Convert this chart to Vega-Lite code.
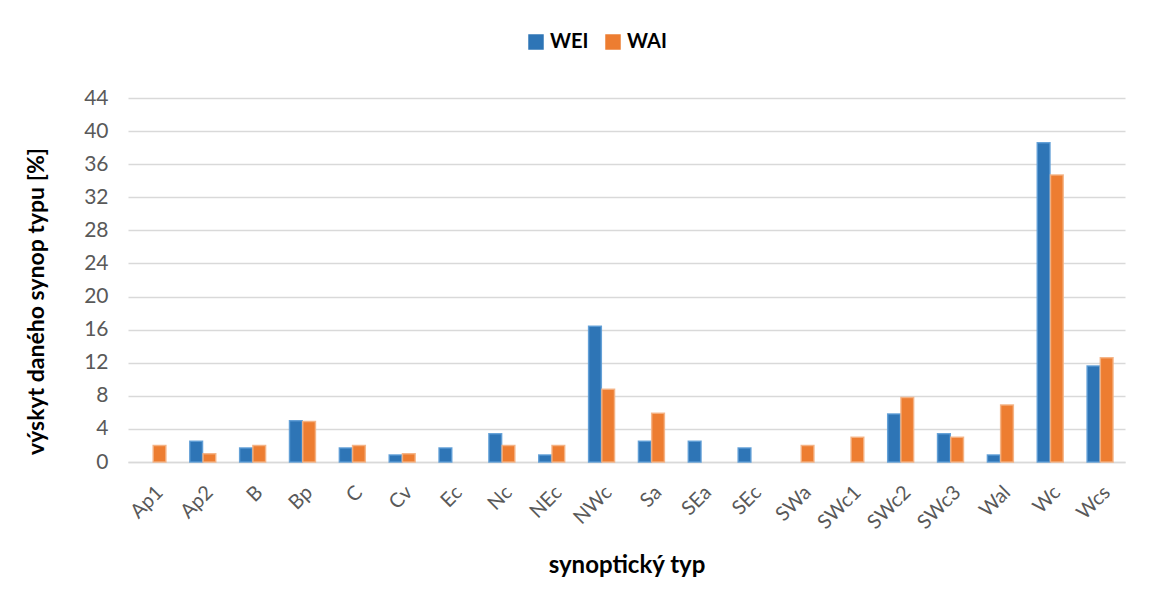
{
  "$schema": "https://vega.github.io/schema/vega-lite/v6.json",
  "autosize": {"type": "none"},
  "width": 997,
  "height": 364,
  "padding": {"left": 128, "top": 98, "right": 24, "bottom": 143},
  "background": "white",
  "config": {
    "font": "Lato",
    "view": {"stroke": null},
    "axis": {"labelFont": "Lato", "titleFont": "Lato"},
    "legend": {"labelFont": "Lato"}
  },
  "data": {
    "values": [
      {"typ": "Ap1", "serie": "WAI", "hodnota": 2.0},
      {"typ": "Ap2", "serie": "WEI", "hodnota": 2.5},
      {"typ": "Ap2", "serie": "WAI", "hodnota": 1.0},
      {"typ": "B", "serie": "WEI", "hodnota": 1.7},
      {"typ": "B", "serie": "WAI", "hodnota": 2.0},
      {"typ": "Bp", "serie": "WEI", "hodnota": 5.0},
      {"typ": "Bp", "serie": "WAI", "hodnota": 4.9},
      {"typ": "C", "serie": "WEI", "hodnota": 1.7},
      {"typ": "C", "serie": "WAI", "hodnota": 2.0},
      {"typ": "Cv", "serie": "WEI", "hodnota": 0.85},
      {"typ": "Cv", "serie": "WAI", "hodnota": 1.0},
      {"typ": "Ec", "serie": "WEI", "hodnota": 1.7},
      {"typ": "Nc", "serie": "WEI", "hodnota": 3.4},
      {"typ": "Nc", "serie": "WAI", "hodnota": 2.0},
      {"typ": "NEc", "serie": "WEI", "hodnota": 0.85},
      {"typ": "NEc", "serie": "WAI", "hodnota": 2.0},
      {"typ": "NWc", "serie": "WEI", "hodnota": 16.4},
      {"typ": "NWc", "serie": "WAI", "hodnota": 8.8},
      {"typ": "Sa", "serie": "WEI", "hodnota": 2.5},
      {"typ": "Sa", "serie": "WAI", "hodnota": 5.9},
      {"typ": "SEa", "serie": "WEI", "hodnota": 2.5},
      {"typ": "SEc", "serie": "WEI", "hodnota": 1.7},
      {"typ": "SWa", "serie": "WAI", "hodnota": 2.0},
      {"typ": "SWc1", "serie": "WAI", "hodnota": 3.0},
      {"typ": "SWc2", "serie": "WEI", "hodnota": 5.8},
      {"typ": "SWc2", "serie": "WAI", "hodnota": 7.8},
      {"typ": "SWc3", "serie": "WEI", "hodnota": 3.4},
      {"typ": "SWc3", "serie": "WAI", "hodnota": 3.0},
      {"typ": "Wal", "serie": "WEI", "hodnota": 0.85},
      {"typ": "Wal", "serie": "WAI", "hodnota": 6.9},
      {"typ": "Wc", "serie": "WEI", "hodnota": 38.6},
      {"typ": "Wc", "serie": "WAI", "hodnota": 34.7},
      {"typ": "Wcs", "serie": "WEI", "hodnota": 11.6},
      {"typ": "Wcs", "serie": "WAI", "hodnota": 12.6}
    ]
  },
  "mark": {"type": "bar", "strokeWidth": 1.5, "strokeOpacity": 0.9},
  "encoding": {
    "x": {
      "field": "typ",
      "type": "nominal",
      "sort": ["Ap1", "Ap2", "B", "Bp", "C", "Cv", "Ec", "Nc", "NEc", "NWc", "Sa", "SEa", "SEc", "SWa", "SWc1", "SWc2", "SWc3", "Wal", "Wc", "Wcs"],
      "scale": {"paddingInner": 0.48, "paddingOuter": 0.24},
      "axis": {
        "title": "synoptický typ",
        "titleFontSize": 24,
        "titleFontWeight": "bold",
        "titleColor": "#000000",
        "titleY": 91,
        "labelAngle": -45,
        "labelFontSize": 20,
        "labelColor": "#595959",
        "labelPadding": 20,
        "ticks": false,
        "domainColor": "#d9d9d9",
        "domainWidth": 1.5,
        "grid": false
      }
    },
    "xOffset": {
      "field": "serie",
      "type": "nominal",
      "scale": {"domain": ["WEI", "WAI"], "paddingInner": 0.04}
    },
    "y": {
      "field": "hodnota",
      "type": "quantitative",
      "scale": {"domain": [0, 44], "nice": false},
      "axis": {
        "title": "výskyt daného synop typu [%]",
        "titleFontSize": 23,
        "titleFontWeight": "bold",
        "titleColor": "#000000",
        "titleX": -80,
        "titleY": 203,
        "values": [0, 4, 8, 12, 16, 20, 24, 28, 32, 36, 40, 44],
        "labelFontSize": 21,
        "labelColor": "#595959",
        "labelPadding": 20,
        "ticks": false,
        "domain": false,
        "gridColor": "#d9d9d9",
        "gridWidth": 1.5
      }
    },
    "color": {
      "field": "serie",
      "type": "nominal",
      "scale": {"domain": ["WEI", "WAI"], "range": ["#2E75B6", "#ED7D31"]},
      "legend": {
        "title": null,
        "orient": "none",
        "direction": "horizontal",
        "legendX": 398,
        "legendY": -66,
        "symbolType": "square",
        "symbolSize": 240,
        "symbolStrokeWidth": 0,
        "labelFontSize": 20,
        "labelFontWeight": "bold",
        "labelColor": "#000000",
        "columnPadding": 14,
        "labelOffset": 4
      }
    },
    "stroke": {
      "field": "serie",
      "type": "nominal",
      "scale": {"domain": ["WEI", "WAI"], "range": ["#5B9BD5", "#F4B183"]},
      "legend": null
    }
  }
}
